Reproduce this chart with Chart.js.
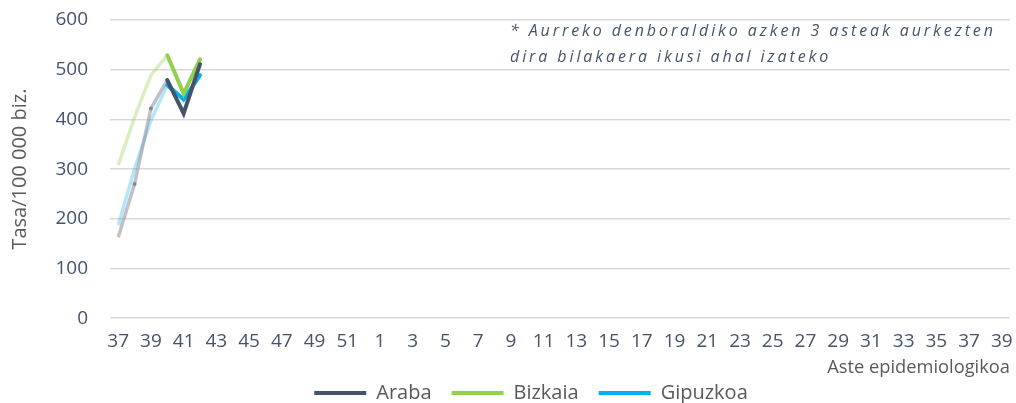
<!DOCTYPE html>
<html>
<head>
<meta charset="utf-8">
<script src="https://cdn.jsdelivr.net/npm/chart.js@4/dist/chart.umd.min.js"></script>
<style>
  html, body { margin: 0; padding: 0; background: #fff; }
  #wrap { width: 1016px; height: 403px; position: relative; }
</style>
</head>
<body>
<div id="wrap"><canvas id="tasaChart"></canvas></div>
<script>
// Asteak: 37-52 (aurreko urtea) eta 1-39
var weeks = [37, 38, 39, 40, 41, 42, 43, 44, 45, 46, 47, 48, 49, 50, 51, 52,
    1, 2, 3, 4, 5, 6, 7, 8, 9, 10, 11, 12, 13, 14, 15, 16, 17, 18, 19, 20,
    21, 22, 23, 24, 25, 26, 27, 28, 29, 30, 31, 32, 33, 34, 35, 36, 37, 38, 39];

// Aurreko denboraldiko azken asteak (argiago)
var arabaPrev = [163, 270, 422, 479];
var bizkaiaPrev = [308, 404, 489, 529];
var gipuzkoaPrev = [187, 300, 398, 469];

// Denboraldi berria (40. astetik aurrera)
var arabaCur = [479, 412, 511];
var bizkaiaCur = [529, 452, 521];
var gipuzkoaCur = [469, 440, 489];

var yTicks = [0, 100, 200, 300, 400, 500, 600];

var noteLines = ['* Aurreko denboraldiko azken 3 asteak aurkezten', 'dira bilakaera ikusi ahal izateko'];

function fill(values, start) {
    var out = weeks.map(function() { return null; });
    values.forEach(function(v, i) { out[start + i] = v; });
    return out;
}

var notePlugin = {
    id: 'note',
    afterLayout: function(chart) {
        // legenda pixka bat eskuinera, Excel-en antzera
        chart.legend.left += 26;
        chart.legend.right += 26;
    },
    afterDraw: function(chart) {
        var ctx = chart.ctx;
        ctx.save();
        ctx.font = 'italic 16px "Open Sans"';
        ctx.fillStyle = '#44546A';
        ctx.textBaseline = 'middle';
        ctx.letterSpacing = '2.9px';
        ctx.fillText(noteLines[0], 510, 31);
        ctx.fillText(noteLines[1], 510, 57);
        ctx.restore();
    }
};

var ctx = document.getElementById('tasaChart').getContext('2d');
new Chart(ctx, {
    type: 'line',
    data: {
        labels: weeks,
        datasets: [
            { label: 'prevA', order: 1, data: fill(arabaPrev, 0), borderColor: 'rgba(140,140,150,0.55)', backgroundColor: 'rgba(110,110,125,0.7)', borderWidth: 3.5, pointRadius: [0, 2, 2, 0], pointBorderWidth: 0 },
            { label: 'prevB', order: 1, data: fill(bizkaiaPrev, 0), borderColor: 'rgba(146,208,80,0.35)', borderWidth: 3.5, pointRadius: 0 },
            { label: 'prevG', order: 1, data: fill(gipuzkoaPrev, 0), borderColor: 'rgba(0,176,240,0.3)', borderWidth: 3.5, pointRadius: 0 },
            { label: 'Araba', order: 0, data: fill(arabaCur, 3), borderColor: '#44546A', backgroundColor: '#44546A', borderWidth: 4, borderCapStyle: 'round', pointRadius: 0 },
            { label: 'Bizkaia', order: 0, data: fill(bizkaiaCur, 3), borderColor: '#92D050', backgroundColor: '#92D050', borderWidth: 4, borderCapStyle: 'round', pointRadius: 0 },
            { label: 'Gipuzkoa', order: 0, data: fill(gipuzkoaCur, 3), borderColor: '#00B0F0', backgroundColor: '#00B0F0', borderWidth: 4, borderCapStyle: 'round', pointRadius: 0 }
        ]
    },
    options: {
        responsive: true,
        maintainAspectRatio: false,
        animation: false,
        spanGaps: false,
        layout: { padding: { top: 20, right: 6, left: 0, bottom: -10 } },
        plugins: {
            legend: {
                position: 'bottom',
                labels: {
                    filter: function(item) { return item.text.indexOf('prev') !== 0; },
                    usePointStyle: true,
                    pointStyle: 'line',
                    pointStyleWidth: 52,
                    boxHeight: 4,
                    padding: 20,
                    color: '#595959',
                    font: { family: 'Open Sans', size: 20 }
                }
            },
            tooltip: { enabled: false }
        },
        scales: {
            x: {
                offset: true,
                grid: { display: false, drawTicks: false },
                border: { display: false },
                ticks: {
                    autoSkip: false,
                    maxRotation: 0,
                    padding: 12,
                    color: '#44546A',
                    font: { family: 'Open Sans', size: 19 },
                    callback: function(val, i) { return i % 2 === 0 ? weeks[i] : ''; }
                },
                title: {
                    display: true,
                    text: 'Aste epidemiologikoa',
                    align: 'end',
                    color: '#595959',
                    font: { family: 'Open Sans', size: 18.3 },
                    padding: { top: -8, bottom: -16 }
                },
                afterFit: function(scale) { scale.paddingRight = 0; }
            },
            y: {
                min: 0,
                max: 600,
                afterBuildTicks: function(scale) {
                    scale.ticks = yTicks.map(function(v) { return { value: v }; });
                },
                grid: { color: '#D9D9D9', lineWidth: 1.5, drawTicks: false },
                border: { display: false },
                ticks: {
                    color: '#44546A',
                    font: { family: 'Open Sans', size: 19 },
                    padding: 22
                },
                title: {
                    display: true,
                    text: 'Tasa/100 000 biz.',
                    color: '#595959',
                    font: { family: 'Open Sans', size: 20 },
                    padding: { top: 8, bottom: 0 }
                },
                afterFit: function(scale) {
                    scale.width = 110;
                    scale.paddingTop = 0;
                    scale.paddingBottom = 0;
                }
            }
        }
    },
    plugins: [notePlugin]
});
</script>
</body>
</html>
